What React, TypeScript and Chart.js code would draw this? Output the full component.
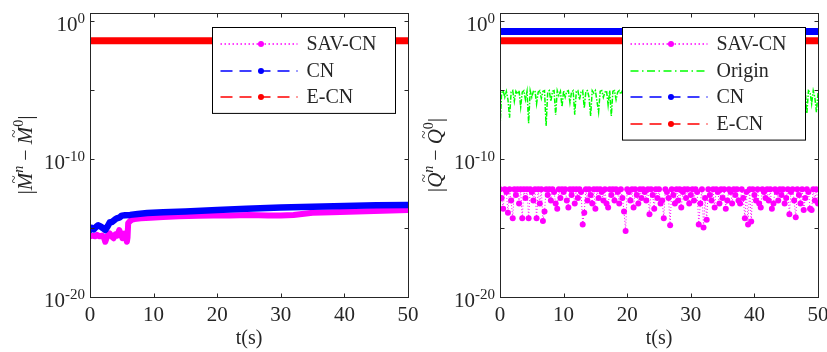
import React, { useEffect, useRef } from "react";
import { Chart, registerables } from "chart.js";

Chart.register(...registerables);

const SERIF = "'Liberation Serif', 'Times New Roman', Times, serif";
const INK = "#262626";

// ---- axes ----
const xTickValues = [0, 10, 20, 30, 40, 50];
const yTickMarks = [1, 1e-5, 1e-10, 1e-15, 1e-20];
const yTickLabelValues = [1, 1e-10, 1e-20];
const yTickLabelExponents = ["0", "-10", "-20"];
const yAxisMin = 1e-20;
const yAxisMax = 3.8;
const xAxisMin = 0;
const xAxisMax = 50;

// ---- left panel: |M^n - M^0| ----
const tMassCN = [0, 0.3, 0.6, 1.0, 1.3, 1.7, 2.0, 2.4, 2.8, 3.1, 3.5, 3.9, 4.2, 4.6, 5.0, 5.5, 6.3, 7.5, 9, 11.5, 15, 20, 24.6, 30, 35, 40, 45, 50];
const massCN = [7.1e-16, 1e-15, 7.9e-16, 1.26e-15, 1.58e-15, 1.26e-15, 1e-15, 7.1e-16, 1.4e-15, 2.5e-15, 2.8e-15, 4e-15, 5e-15, 5.6e-15, 7.9e-15, 8.3e-15, 8.9e-15, 1.05e-14, 1.2e-14, 1.38e-14, 1.58e-14, 2e-14, 2.5e-14, 3e-14, 3.5e-14, 4e-14, 4.4e-14, 4.7e-14];

const tMassSAV = [0, 0.4, 0.8, 1.1, 1.5, 1.9, 2.2, 2.4, 2.7, 3.1, 3.4, 3.7, 4.0, 4.3, 4.6, 4.9, 5.1, 5.4, 5.6, 5.8, 5.9, 6.0, 6.3, 6.6, 7, 8, 9.5, 11.5, 14, 17, 19.4, 22, 25, 28, 30, 32, 35, 38, 42, 46, 50];
const massSAV = [2.5e-16, 2.8e-16, 2.5e-16, 3.2e-16, 2.5e-16, 2.8e-16, 2e-16, 1e-16, 2.5e-16, 4e-16, 2.5e-16, 1.8e-16, 3.5e-16, 2.8e-16, 7.1e-16, 3.2e-16, 1.8e-16, 4e-16, 2.5e-16, 1e-16, 2e-16, 2.2e-15, 3.2e-15, 4e-15, 4.5e-15, 5e-15, 5.6e-15, 6.3e-15, 7.1e-15, 7.6e-15, 7.9e-15, 7.9e-15, 8.9e-15, 7.9e-15, 7.9e-15, 8.9e-15, 1.26e-14, 1.4e-14, 1.58e-14, 1.8e-14, 2e-14];

const tMassECN = [0, 50];
const massECN = [0.037, 0.037];

// ---- right panel: |Q^n - Q^0| ----
const tFine = [
  0, 0.25, 0.5, 0.75, 1, 1.25, 1.5, 1.75, 2, 2.25, 2.5, 2.75, 3, 3.25, 3.5, 3.75, 4, 4.25, 4.5, 4.75,
  5, 5.25, 5.5, 5.75, 6, 6.25, 6.5, 6.75, 7, 7.25, 7.5, 7.75, 8, 8.25, 8.5, 8.75, 9, 9.25, 9.5, 9.75,
  10, 10.25, 10.5, 10.75, 11, 11.25, 11.5, 11.75, 12, 12.25, 12.5, 12.75, 13, 13.25, 13.5, 13.75, 14, 14.25, 14.5, 14.75,
  15, 15.25, 15.5, 15.75, 16, 16.25, 16.5, 16.75, 17, 17.25, 17.5, 17.75, 18, 18.25, 18.5, 18.75, 19, 19.25, 19.5, 19.75,
  20, 20.25, 20.5, 20.75, 21, 21.25, 21.5, 21.75, 22, 22.25, 22.5, 22.75, 23, 23.25, 23.5, 23.75, 24, 24.25, 24.5, 24.75,
  25, 25.25, 25.5, 25.75, 26, 26.25, 26.5, 26.75, 27, 27.25, 27.5, 27.75, 28, 28.25, 28.5, 28.75, 29, 29.25, 29.5, 29.75,
  30, 30.25, 30.5, 30.75, 31, 31.25, 31.5, 31.75, 32, 32.25, 32.5, 32.75, 33, 33.25, 33.5, 33.75, 34, 34.25, 34.5, 34.75,
  35, 35.25, 35.5, 35.75, 36, 36.25, 36.5, 36.75, 37, 37.25, 37.5, 37.75, 38, 38.25, 38.5, 38.75, 39, 39.25, 39.5, 39.75,
  40, 40.25, 40.5, 40.75, 41, 41.25, 41.5, 41.75, 42, 42.25, 42.5, 42.75, 43, 43.25, 43.5, 43.75, 44, 44.25, 44.5, 44.75,
  45, 45.25, 45.5, 45.75, 46, 46.25, 46.5, 46.75, 47, 47.25, 47.5, 47.75, 48, 48.25, 48.5, 48.75, 49, 49.25, 49.5, 49.75,
  50,
];

const energyOrigin = [
  1.8e-8, 6e-6, 9e-6, 3e-6, 8e-6, 2e-6, 1e-7, 7e-6, 9e-6, 1.5e-6, 8e-6, 5e-6, 9e-6, 6e-7, 7e-6, 9e-6, 2e-6, 8e-6, 4e-8, 9e-6,
  3e-6, 8e-6, 9e-6, 1e-6, 7e-6, 9e-6, 2.5e-6, 8e-6, 9e-6, 2.5e-8, 7e-6, 9e-6, 1.5e-6, 8e-6, 9e-6, 1.6e-7, 9e-6, 4e-6, 8e-6, 6e-7,
  9e-6, 3e-6, 8e-6, 9e-6, 1.2e-6, 7e-6, 9e-6, 1.6e-7, 8e-6, 9e-6, 2e-6, 7e-6, 9e-6, 5e-7, 8e-6, 9e-6, 3e-6, 1.3e-7, 9e-6, 6e-6,
  9e-6, 1.5e-6, 2.5e-7, 8e-6, 9e-6, 3e-6, 7e-6, 9e-6, 8e-7, 9e-6, 1.3e-7, 8e-6, 9e-6, 2e-6, 7e-6, 9e-6, 5e-6, 9e-6, 1e-6, 8e-6,
  9e-6, 3e-6, 8e-6, 9e-6, 6e-7, 7e-6, 9e-6, 2e-6, 9e-6, 1.5e-7, 8e-6, 9e-6, 4e-6, 9e-6, 1e-6, 7e-6, 9e-6, 3e-7, 8e-6, 9e-6,
  2e-6, 9e-6, 7e-6, 5e-7, 9e-6, 8e-6, 2e-6, 9e-6, 1.2e-7, 8e-6, 9e-6, 3e-6, 7e-6, 9e-6, 8e-7, 9e-6, 6e-6, 2e-7, 9e-6, 8e-6,
  9e-6, 1.5e-6, 8e-6, 9e-6, 4e-7, 7e-6, 9e-6, 2e-6, 9e-6, 1e-7, 8e-6, 9e-6, 3e-6, 9e-6, 7e-7, 8e-6, 9e-6, 2.5e-6, 9e-6, 3e-7,
  8e-6, 9e-6, 1.5e-6, 7e-6, 9e-6, 2e-7, 9e-6, 8e-6, 3e-6, 9e-6, 6e-7, 8e-6, 9e-6, 2e-6, 9e-6, 1.5e-7, 7e-6, 9e-6, 4e-6, 9e-6,
  1e-6, 8e-6, 9e-6, 3e-7, 9e-6, 7e-6, 2e-6, 9e-6, 8e-6, 1.3e-7, 9e-6, 3e-6, 8e-6, 9e-6, 6e-7, 9e-6, 7e-6, 2e-6, 9e-6, 4e-7,
  8e-6, 9e-6, 1.5e-6, 9e-6, 7e-6, 3e-7, 9e-6, 8e-6, 2e-6, 9e-6, 5e-7, 8e-6, 9e-6, 2e-7, 9e-6, 7e-6, 1e-6, 9e-6, 3e-6, 2.5e-7,
  6e-6,
];

const energySAV = [
  6.3e-13, 1.5e-13, 2.5e-14, 6.3e-13, 4e-13, 1.3e-14, 6.3e-13, 1e-13, 5e-15, 6.3e-13,
  2.5e-13, 6.3e-13, 6e-14, 6.3e-13, 5e-15, 6.3e-13, 1.5e-13, 6.3e-13, 5e-15, 6.3e-13,
  4e-13, 1e-13, 6.3e-13, 5e-15, 6.3e-13, 6e-14, 6.3e-13, 3.2e-15, 1.6e-14, 6.3e-13,
  2.5e-13, 6.3e-13, 1e-13, 6.3e-13, 4e-13, 6e-14, 2.5e-14, 6.3e-13, 1.5e-13, 6.3e-13,
  4e-13, 6.3e-13, 1e-13, 3e-14, 6.3e-13, 2.5e-13, 6.3e-13, 6e-14, 6.3e-13, 1.5e-13,
  6.3e-13, 4e-13, 1.8e-15, 1.3e-14, 6.3e-13, 1e-13, 6.3e-13, 2.5e-13, 6e-14, 6.3e-13,
  2.5e-14, 6.3e-13, 1.5e-13, 6.3e-13, 4e-13, 1e-13, 6.3e-13, 6e-14, 3e-14, 6.3e-13,
  2.5e-13, 6.3e-13, 1e-13, 6.3e-13, 4e-13, 6e-14, 6.3e-13, 1.5e-13, 1.6e-14, 6e-16,
  6.3e-13, 4e-13, 1e-13, 6.3e-13, 3e-14, 6.3e-13, 2.5e-13, 6e-14, 6.3e-13, 1.5e-13,
  6.3e-13, 4e-13, 1e-13, 6.3e-13, 1e-14, 6.3e-13, 2.5e-13, 2.5e-14, 6.3e-13, 1.5e-13,
  6.3e-13, 6e-14, 1e-13, 5e-15, 6.3e-13, 4e-13, 1.5e-13, 1.6e-15, 6.3e-13, 2.5e-13,
  6e-14, 6.3e-13, 1e-13, 6.3e-13, 3e-14, 4e-13, 6.3e-13, 1.5e-13, 6.3e-13, 6e-14,
  2.5e-13, 6.3e-13, 1e-13, 6.3e-13, 4e-13, 1.8e-15, 6e-14, 6.3e-13, 1.1e-15, 1.5e-13,
  4e-15, 6.3e-13, 2.5e-13, 1e-13, 6.3e-13, 3e-14, 6.3e-13, 4e-13, 6e-14, 6.3e-13,
  1.5e-13, 6.3e-13, 2.5e-14, 1e-13, 6.3e-13, 4e-13, 6e-14, 6.3e-13, 2.5e-13, 6.3e-13,
  1e-13, 6e-14, 6.3e-13, 1.5e-13, 5e-15, 4e-13, 1.8e-15, 6.3e-13, 3e-15, 6.3e-13,
  2.5e-13, 1e-13, 6.3e-13, 6e-14, 3e-14, 6.3e-13, 4e-13, 1.5e-13, 6.3e-13, 1e-13,
  6.3e-13, 2.5e-14, 6e-14, 6.3e-13, 4e-13, 1e-13, 6.3e-13, 2.5e-13, 6.3e-13, 6e-14,
  1.5e-13, 6.3e-13, 1e-14, 4e-13, 6.3e-13, 1e-13, 6e-15, 6.3e-13, 2.5e-13, 6e-14,
  6.3e-13, 2e-14, 1.5e-13, 6.3e-13, 4e-13, 2.5e-14, 2e-14, 6.3e-13, 1e-13, 6.3e-13,
  6e-14,
];

const tEnergyConst = [0, 50];
const energyCN = [0.17, 0.17];
const energyECN = [0.037, 0.037];

const MAGENTA = "#ff00ff";
const GREEN = "#00ff00";
const BLUE = "#0000ff";
const RED = "#ff0000";

// legend entries (label, colour, dash, marker)
const legendLeft = ["SAV-CN", "CN", "E-CN"];
const legendLeftColors = [MAGENTA, BLUE, RED];
const legendLeftDashes = [[1.5, 2.5], [12, 7], [12, 7]];
const legendLeftMarkers = [true, true, true];
const legendRight = ["SAV-CN", "Origin", "CN", "E-CN"];
const legendRightColors = [MAGENTA, GREEN, BLUE, RED];
const legendRightDashes = [[1.5, 2.5], [8, 3.5, 1.5, 3.5], [12, 7], [12, 7]];
const legendRightMarkers = [true, false, true, true];

const toPts = (ts: number[], vs: number[]) => ts.map((t, i) => ({ x: t, y: vs[i] }));

const decorPlugin = {
  id: "decor",
  afterDraw(chart: any, _args: any, opts: any) {
    const { ctx, chartArea: a, scales } = chart;
    const sx = scales.x;
    const sy = scales.y;
    ctx.save();
    ctx.setLineDash([]);
    ctx.lineCap = "butt";
    ctx.lineJoin = "miter";
    ctx.strokeStyle = INK;
    ctx.lineWidth = 1;
    const L = Math.round(a.left) + 0.5;
    const R = Math.round(a.right) + 0.5;
    const T = Math.round(a.top) + 0.5;
    const B = Math.round(a.bottom) + 0.5;
    ctx.strokeRect(L, T, R - L, B - T);
    const tl = 4;
    ctx.beginPath();
    xTickValues.forEach((v) => {
      const p = Math.round(sx.getPixelForValue(v)) + 0.5;
      ctx.moveTo(p, B);
      ctx.lineTo(p, B - tl);
      ctx.moveTo(p, T);
      ctx.lineTo(p, T + tl);
    });
    yTickMarks.forEach((v) => {
      const p = Math.round(sy.getPixelForValue(v)) + 0.5;
      ctx.moveTo(L, p);
      ctx.lineTo(L + tl, p);
      ctx.moveTo(R, p);
      ctx.lineTo(R - tl, p);
    });
    ctx.stroke();

    // y tick labels 10^e
    ctx.fillStyle = INK;
    ctx.textAlign = "left";
    ctx.textBaseline = "alphabetic";
    yTickLabelValues.forEach((v, i) => {
      const p = sy.getPixelForValue(v);
      const ex = yTickLabelExponents[i];
      ctx.font = `15px ${SERIF}`;
      const ew = ctx.measureText(ex).width;
      ctx.font = `21px ${SERIF}`;
      const bw = ctx.measureText("10").width;
      const right = a.left - 5;
      ctx.fillText("10", right - ew - bw, p + 10);
      ctx.font = `15px ${SERIF}`;
      ctx.fillText(ex, right - ew, p + 1.5);
    });

    // y axis title
    const letter = opts.letter;
    const parts = [
      { t: "|", f: `22px ${SERIF}`, dy: 0, tilde: false },
      { t: letter, f: `italic 21px ${SERIF}`, dy: 0, tilde: true },
      { t: "n", f: `italic 14px ${SERIF}`, dy: -9, tilde: false },
      { t: " \u2212 ", f: `20px ${SERIF}`, dy: 0, tilde: false },
      { t: letter, f: `italic 21px ${SERIF}`, dy: 0, tilde: true },
      { t: "0", f: `14px ${SERIF}`, dy: -9, tilde: false },
      { t: "|", f: `22px ${SERIF}`, dy: 0, tilde: false },
    ];
    const widths = parts.map((p) => {
      ctx.font = p.f;
      return ctx.measureText(p.t).width;
    });
    const total = widths.reduce((s, w) => s + w, 0);
    ctx.save();
    ctx.translate(a.left - 66, (a.top + a.bottom) / 2);
    ctx.rotate(-Math.PI / 2);
    let cx = -total / 2;
    const base = 8;
    parts.forEach((p, i) => {
      ctx.font = p.f;
      ctx.textAlign = "left";
      ctx.fillText(p.t, cx, base + p.dy);
      if (p.tilde) {
        ctx.font = `15px ${SERIF}`;
        ctx.textAlign = "center";
        ctx.fillText("~", cx + widths[i] / 2 + 2, base - 13);
      }
      cx += widths[i];
    });
    ctx.restore();

    // legend
    const labels: string[] = opts.labels;
    const colors: string[] = opts.colors;
    const dashes: number[][] = opts.dashes;
    const markers: boolean[] = opts.markers;
    const n = labels.length;
    const bw = 183;
    const bh = 32.5 + 26.7 * (n - 1);
    const bx = Math.round(a.right - 13 - bw) + 0.5;
    const by = Math.round(a.top + 14) + 0.5;
    ctx.fillStyle = "#ffffff";
    ctx.fillRect(bx, by, bw, bh);
    ctx.strokeStyle = "#000000";
    ctx.lineWidth = 1;
    ctx.strokeRect(bx, by, bw, bh);
    for (let k = 0; k < n; k++) {
      const cy = Math.round(by + 16.5 + k * 26.7);
      const col = colors[k];
      ctx.save();
      ctx.lineWidth = 1.6;
      ctx.lineCap = "butt";
      ctx.setLineDash(dashes[k].slice());
      ctx.strokeStyle = col;
      ctx.beginPath();
      ctx.moveTo(bx + 8, cy);
      ctx.lineTo(bx + 85, cy);
      ctx.stroke();
      ctx.restore();
      if (markers[k]) {
        ctx.fillStyle = col;
        ctx.beginPath();
        ctx.arc(bx + 48.5, cy, 3, 0, Math.PI * 2);
        ctx.fill();
      }
      ctx.fillStyle = INK;
      ctx.font = `20px ${SERIF}`;
      ctx.textAlign = "left";
      ctx.textBaseline = "middle";
      ctx.fillText(labels[k], bx + 94, cy + 1);
      ctx.textBaseline = "alphabetic";
    }
    ctx.restore();
  },
};

function makeConfig(datasets: any[], padLeft: number, padRight: number, decor: any): any {
  return {
    type: "line",
    data: { datasets },
    plugins: [decorPlugin],
    options: {
      responsive: false,
      animation: false,
      devicePixelRatio: 1,
      layout: { padding: { left: padLeft, right: padRight, top: 13, bottom: 0 } },
      plugins: {
        legend: { display: false },
        tooltip: { enabled: false },
        decor,
      },
      elements: { line: { tension: 0 } },
      scales: {
        x: {
          type: "linear",
          min: xAxisMin,
          max: xAxisMax,
          position: "bottom",
          afterBuildTicks: (s: any) => {
            s.ticks = xTickValues.map((v) => ({ value: v }));
          },
          grid: { display: false, drawTicks: false },
          border: { display: false },
          ticks: { color: INK, font: { family: SERIF, size: 21 }, padding: 6, maxRotation: 0, autoSkip: false },
          title: { display: true, text: "t(s)", color: INK, font: { family: SERIF, size: 20 }, padding: { top: 0, bottom: 1 } },
          afterFit: (s: any) => {
            s.height = 55;
            s.paddingLeft = 0;
            s.paddingRight = 0;
          },
        },
        y: { type: "logarithmic", min: yAxisMin, max: yAxisMax, display: false },
      },
    },
  };
}

const thick = (label: string, color: string, ts: number[], vs: number[], w: number, order: number) => ({
  label,
  data: toPts(ts, vs),
  borderColor: color,
  backgroundColor: color,
  borderWidth: w,
  pointRadius: 0,
  borderCapStyle: "round",
  borderJoinStyle: "round",
  fill: false,
  order,
});

function leftConfig() {
  const datasets = [
    thick(legendLeft[0], MAGENTA, tMassSAV, massSAV, 6, 2),
    thick(legendLeft[1], BLUE, tMassCN, massCN, 6.5, 1),
    thick(legendLeft[2], RED, tMassECN, massECN, 7, 0),
  ];
  return makeConfig(datasets, 90, 17, {
    letter: "M",
    labels: legendLeft,
    colors: legendLeftColors,
    dashes: legendLeftDashes,
    markers: legendLeftMarkers,
  });
}

function rightConfig() {
  const datasets = [
    {
      label: legendRight[0],
      data: toPts(tFine, energySAV),
      borderColor: MAGENTA,
      backgroundColor: MAGENTA,
      borderWidth: 1,
      borderDash: [1, 2],
      pointRadius: 3,
      pointBorderWidth: 0,
      pointBackgroundColor: MAGENTA,
      fill: false,
      order: 1,
    },
    {
      label: legendRight[1],
      data: toPts(tFine, energyOrigin),
      borderColor: GREEN,
      backgroundColor: GREEN,
      borderWidth: 1.5,
      borderDash: [5, 1.5, 1.5, 1.5],
      pointRadius: 0,
      fill: false,
      order: 2,
    },
    thick(legendRight[2], BLUE, tEnergyConst, energyCN, 7, 0),
    thick(legendRight[3], RED, tEnergyConst, energyECN, 7, 0),
  ];
  return makeConfig(datasets, 87, 9, {
    letter: "Q",
    labels: legendRight,
    colors: legendRightColors,
    dashes: legendRightDashes,
    markers: legendRightMarkers,
  });
}

function Panel({ build, left, width }: { build: () => any; left: number; width: number }) {
  const ref = useRef<HTMLCanvasElement>(null);
  useEffect(() => {
    const chart = new Chart(ref.current as HTMLCanvasElement, build());
    return () => chart.destroy();
  }, []);
  return (
    <canvas
      ref={ref}
      width={width}
      height={352}
      style={{ position: "absolute", left, top: 0, width, height: 352 }}
    />
  );
}

export default function App() {
  return (
    <div style={{ position: "fixed", left: 0, top: 0, width: 827, height: 352, background: "#ffffff", overflow: "hidden" }}>
      <Panel build={leftConfig} left={0} width={425} />
      <Panel build={rightConfig} left={413} width={414} />
    </div>
  );
}
